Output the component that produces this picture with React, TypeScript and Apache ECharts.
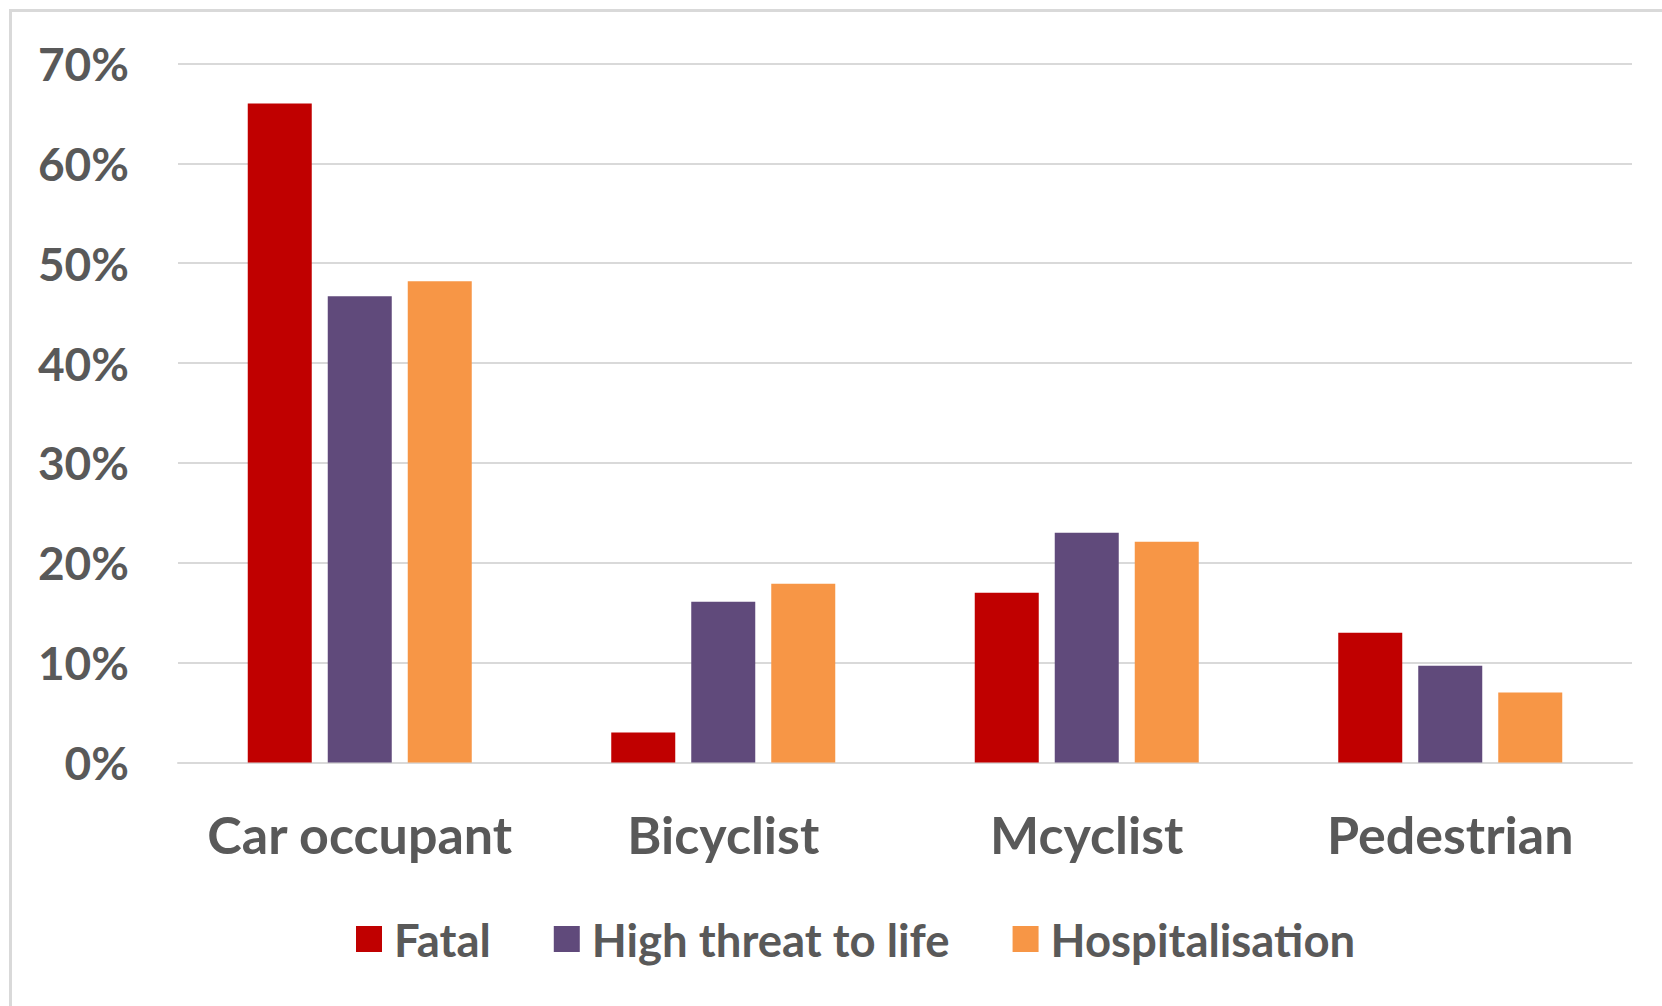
import React, { useEffect, useRef } from "react";
import * as echarts from "echarts";

const categories = ["Car occupant", "Bicyclist", "Mcyclist", "Pedestrian"];
const seriesNames = ["Fatal", "High threat to life", "Hospitalisation"];
const fatal = [66.0, 3.0, 17.0, 13.0];
const highThreat = [46.7, 16.1, 23.0, 9.7];
const hospitalisation = [48.2, 17.9, 22.1, 7.0];
const colors = ["#C00000", "#604A7B", "#F79646"];

const FONT = "Lato, 'Noto Sans', sans-serif";
const TEXT = "#595959";

export default function App() {
  const ref = useRef<HTMLDivElement>(null);
  useEffect(() => {
    if (!ref.current) return;
    const chart = echarts.init(ref.current, undefined, { renderer: "svg" });
    const data = [fatal, highThreat, hospitalisation];
    chart.setOption({
      animation: false,
      backgroundColor: "#ffffff",
      graphic: [
        {
          type: "rect",
          shape: { x: 10.5, y: 10.5, width: 1700, height: 1100 },
          style: { fill: "none", stroke: "#D9D9D9", lineWidth: 3 },
          silent: true,
        },
      ],
      grid: { left: 178, right: 30, top: 63.5, bottom: 243.5 },
      legend: {
        data: seriesNames,
        left: 356,
        top: 916,
        padding: 0,
        itemWidth: 26,
        itemHeight: 26,
        itemGap: 63,
        icon: "rect",
        textStyle: {
          color: TEXT,
          fontFamily: FONT,
          fontWeight: "bold",
          fontSize: 45.5,
          padding: [0, 0, 0, 7],
        },
      },
      xAxis: {
        type: "category",
        data: categories,
        axisTick: { show: false },
        axisLine: { show: true, lineStyle: { color: "#D9D9D9", width: 2 } },
        axisLabel: {
          interval: 0,
          color: TEXT,
          fontFamily: FONT,
          fontWeight: "bold",
          fontSize: 52,
          margin: 45,
        },
      },
      yAxis: {
        type: "value",
        min: 0,
        max: 70,
        interval: 10,
        axisLine: { show: false },
        axisTick: { show: false },
        splitLine: { lineStyle: { color: "#D9D9D9", width: 2 } },
        axisLabel: {
          color: TEXT,
          fontFamily: FONT,
          fontWeight: "bold",
          fontSize: 46,
          margin: 49,
          formatter: "{value}%",
        },
      },
      series: seriesNames.map((name, i) => ({
        name,
        type: "bar",
        data: data[i],
        barWidth: 64,
        barGap: "25%",
        itemStyle: { color: colors[i] },
      })),
    });
    return () => chart.dispose();
  }, []);
  return (
    <div
      ref={ref}
      style={{ position: "fixed", left: 0, top: 0, width: 1662, height: 1006 }}
    />
  );
}
